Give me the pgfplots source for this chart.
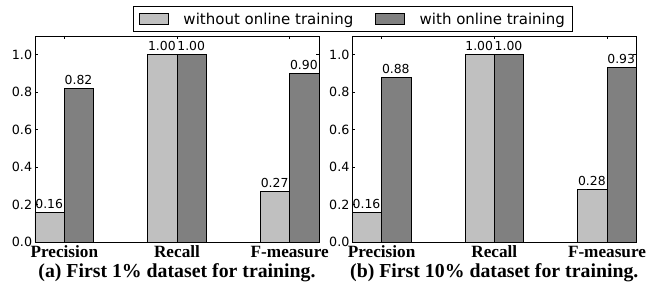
\documentclass[border=0pt]{standalone}
\usepackage{pgfplots}
\pgfplotsset{compat=1.18}
\usepackage{fontspec}
\setmainfont{DejaVu Sans}
\newfontfamily\tnr{Liberation Serif}

\definecolor{lightbar}{RGB}{192,192,192}
\definecolor{darkbar}{RGB}{128,128,128}

\pgfplotsset{
 mystyle/.style={
  scale only axis, width=284pt, height=206pt,
  xmin=-0.26, xmax=2.26, ymin=0, ymax=1.1,
  ybar=0pt, bar width=0.26,
  clip=false,
  xtick={0,1,2}, xticklabels={Precision,Recall,F-measure},
  ytick={0,0.2,0.4,0.6,0.8,1.0},
  tick align=inside, major tick length=3pt, tick style={black, line width=0.6pt},
  xtick pos=both, ytick pos=both,
  axis line style={line width=0.8pt},
  /pgf/number format/assume math mode=true,
  yticklabel style={font=\fontsize{12.7}{14}\selectfont, anchor=east, inner sep=0pt, xshift=-2.7pt, /pgf/number format/fixed, /pgf/number format/zerofill, /pgf/number format/precision=1},
  xticklabel style={font=\fontsize{17.2}{20}\selectfont\tnr\bfseries, anchor=base, inner sep=0pt, yshift=-15.3pt},
  nodes near coords,
  nodes near coords style={font=\fontsize{12.4}{14}\selectfont, anchor=base west, inner sep=0pt, xshift=-14.65pt, yshift=4pt, /pgf/number format/fixed, /pgf/number format/zerofill, /pgf/number format/precision=2},
  every axis plot/.append style={draw=black, line width=0.8pt},
  legend image code/.code={\draw[#1] (0pt,-5.5pt) rectangle (29pt,5.5pt);},
 }
}

\begin{document}
\begin{tikzpicture}
\useasboundingbox (0,0) rectangle (660pt,284pt);
\begin{axis}[mystyle, at={(35pt,42pt)}, anchor=south west,
  legend columns=2,
  legend style={at={(1.1197,1.0816)}, anchor=center, draw=black, line width=0.8pt,
    font=\fontsize{15}{18}\selectfont, inner xsep=5.6pt, inner ysep=4pt,
    /tikz/every odd column/.append style={column sep=12.6pt},
    /tikz/every even column/.append style={column sep=20pt}},
]
\addplot[fill=lightbar] coordinates {(0,0.16) (1,1.00) (2,0.27)};
\addplot[fill=darkbar] coordinates {(0,0.82) (1,1.00) (2,0.90)};
\legend{without online training, with online training}
\node[font=\fontsize{19.8}{22}\selectfont\tnr\bfseries, anchor=base, yshift=-35.3pt] at (rel axis cs:0.5,0) {(a) First 1\% dataset for training.};
\end{axis}
\begin{axis}[mystyle, at={(352.3pt,42pt)}, anchor=south west]
\addplot[fill=lightbar] coordinates {(0,0.16) (1,1.00) (2,0.28)};
\addplot[fill=darkbar] coordinates {(0,0.88) (1,1.00) (2,0.93)};
\node[font=\fontsize{19.8}{22}\selectfont\tnr\bfseries, anchor=base, yshift=-35.3pt] at (rel axis cs:0.5,0) {(b) First 10\% dataset for training.};
\end{axis}
\end{tikzpicture}
\end{document}
